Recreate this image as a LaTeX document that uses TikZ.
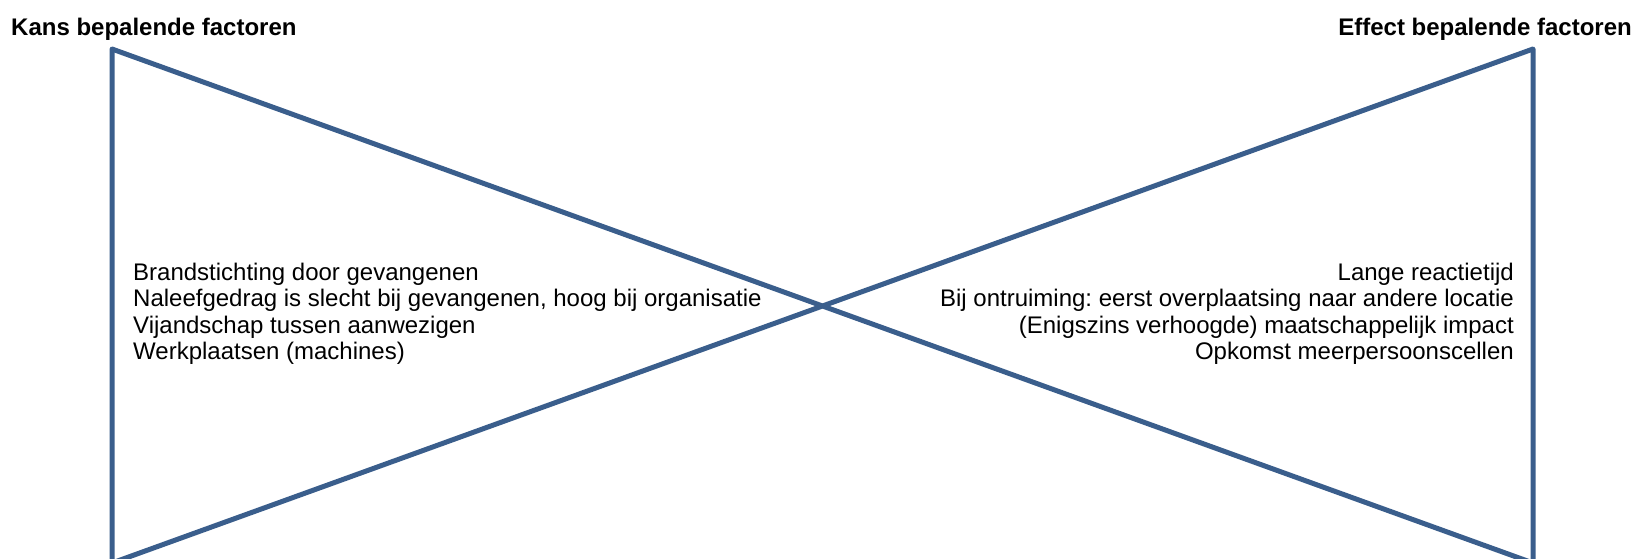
\documentclass[tikz,border=0pt]{standalone}
\usepackage{fontspec}
\setmainfont{Liberation Sans}
\frenchspacing
\begin{document}
\definecolor{bowblue}{RGB}{58,94,140}
\begin{tikzpicture}[x=1pt,y=-1pt,
  bowline/.style={draw=bowblue,line width=5pt,line join=round},
  heading/.style={inner sep=0pt,font=\fontsize{24}{26.4}\selectfont\bfseries},
  factors/.style={inner sep=0pt,font=\fontsize{24}{26.4}\selectfont}]
  \useasboundingbox (0,0) rectangle (1639,559);
  \clip (0,0) rectangle (1639,559);
  % bowtie outline
  \coordinate (tl) at (112,49);
  \coordinate (bl) at (112,563);
  \coordinate (tr) at (1533,49);
  \coordinate (br) at (1533,563);
  \draw[bowline] (tl) -- (bl) -- (tr) -- (br) -- cycle;
  % headings
  \node[heading,anchor=base west] (kans) at (11,36) {Kans bepalende factoren};
  \node[heading,anchor=base east] (effect) at (1632,36) {Effect bepalende factoren};
  % factor lists (base anchor sits on the last line)
  \node[factors,anchor=base west,align=left] (left) at (133,359.5)
    {Brandstichting door gevangenen\\
     Naleefgedrag is slecht bij gevangenen, hoog bij organisatie\\
     Vijandschap tussen aanwezigen\\
     Werkplaatsen (machines)};
  \node[factors,anchor=base east,align=right] (right) at (1514,359.5)
    {Lange reactietijd\\
     Bij ontruiming: eerst overplaatsing naar andere locatie\\
     (Enigszins verhoogde) maatschappelijk impact\\
     Opkomst meerpersoonscellen};
\end{tikzpicture}
\end{document}
